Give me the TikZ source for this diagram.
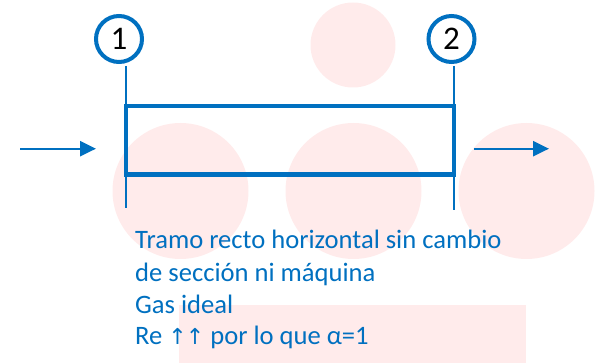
\documentclass[tikz,border=0pt]{standalone}
\usepackage{fontspec}
\setmainfont{Carlito}
\newfontfamily\arrowfont{DejaVu Sans}
\usetikzlibrary{arrows.meta}
\definecolor{pblue}{HTML}{0070C0}
\definecolor{wpink}{RGB}{255,235,235}
\begin{document}
\begin{tikzpicture}[x=1pt,y=-1pt,
  numcircle/.style={circle,draw=pblue,line width=4pt,minimum size=46pt,inner sep=0pt,
    font=\fontsize{33}{33}\selectfont,text=black},
  guide/.style={draw=pblue,line width=2pt},
  pipebox/.style={draw=pblue,line width=4.5pt,minimum width=328pt,minimum height=68.5pt,inner sep=0pt},
  flow/.style={draw=pblue,line width=2.3pt,-{Triangle[length=16pt,width=15pt]}},
  note/.style={anchor=base west,inner sep=0pt,text=pblue,font=\fontsize{26.6}{31.7}\selectfont},
  bg/.style={fill=wpink,draw=none}]
\useasboundingbox (0,0) rectangle (602,363);
% background watermark
\fill[bg] (353,45) circle[radius=42.5];
\fill[bg] (180.5,191) circle[radius=68];
\fill[bg] (353.5,191) circle[radius=68];
\fill[bg] (526.5,191) circle[radius=68];
\fill[bg] (179,305) rectangle (526,363);
% pipe
\node[pipebox] (pipe) at (290,140.25) {};
% section markers
\node[numcircle] (c1) at (119,39) {1};
\node[numcircle] (c2) at (451.5,39) {2};
\coordinate (l1a) at (126,66);
\coordinate (l1b) at (126,208);
\coordinate (l2a) at (454,66);
\coordinate (l2b) at (454,210);
\draw[guide] (l1a) -- (l1b);
\draw[guide] (l2a) -- (l2b);
% flow arrows
\coordinate (inA) at (20,148.7);
\coordinate (inB) at (96,148.7);
\coordinate (outA) at (474,148.7);
\coordinate (outB) at (549,148.7);
\draw[flow] (inA) -- (inB);
\draw[flow] (outA) -- (outB);
% notes
\node[note] (t1) at (135,249) {Tramo recto horizontal sin cambio};
\node[note] (t2) at (135,281) {de sección ni máquina};
\node[note] (t3) at (135,313) {Gas ideal};
\node[note] (t4) at (135,344) {Re {\arrowfont\fontsize{22}{22}\selectfont ↑\kern-1pt↑} por lo que α=1};
\end{tikzpicture}
\end{document}
